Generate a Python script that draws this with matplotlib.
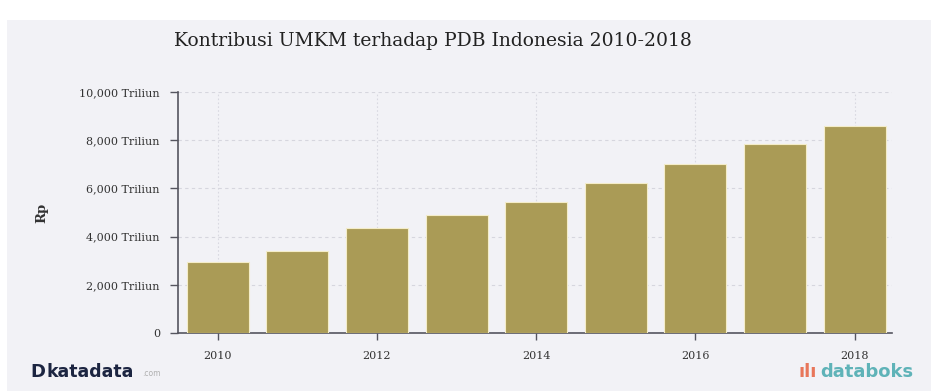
import matplotlib
matplotlib.use('Agg')
import matplotlib.pyplot as plt
from matplotlib.patches import Rectangle

# data
years = [2010, 2011, 2012, 2013, 2014, 2015, 2016, 2017, 2018]
pdb = [2950, 3400, 4340, 4880, 5440, 6230, 7010, 7850, 8600]
y_ticks = [0, 2000, 4000, 6000, 8000, 10000]
y_labels = ['0', '2,000 Triliun', '4,000 Triliun', '6,000 Triliun', '8,000 Triliun', '10,000 Triliun']
x_ticks = [2010, 2012, 2014, 2016, 2018]

bg = '#f2f2f6'
bar_color = '#aa9b56'
axis_color = '#55555f'

fig = plt.figure(figsize=(9.31, 3.91), dpi=100, facecolor='white')
fig.patches.append(Rectangle((7 / 931, 0), 1, 1 - 20 / 391, transform=fig.transFigure,
                             facecolor=bg, edgecolor='none', zorder=-10))

ax = fig.add_axes([178 / 931, 1 - 333 / 391, (892 - 178) / 931, (333 - 92) / 391])
ax.set_facecolor(bg)

ax.bar(years, pdb, width=0.78, color=bar_color, edgecolor='#f4edc9', linewidth=0.8, zorder=3)

ax.set_xlim(2009.5, 2018.47)
ax.set_ylim(0, 10000)
ax.set_yticks(y_ticks)
ax.set_yticklabels(y_labels, family='DejaVu Serif', fontsize=8, color='#333333')
ax.set_xticks(x_ticks)
ax.set_xticklabels([str(x) for x in x_ticks], family='DejaVu Serif', fontsize=8, color='#333333')
ax.tick_params(axis='y', length=6, width=1, color=axis_color, pad=7)
ax.tick_params(axis='x', length=5, width=1, color=axis_color, pad=8)

ax.grid(True, axis='y', color='#d6d6de', linestyle=(0, (3, 3)), linewidth=0.8, zorder=0)
ax.grid(True, axis='x', color='#d9d9e1', linestyle=(0, (1.5, 2)), linewidth=0.8, zorder=0)
for s in ['top', 'right']:
    ax.spines[s].set_visible(False)
for s in ['left', 'bottom']:
    ax.spines[s].set_color(axis_color)
    ax.spines[s].set_linewidth(1.2)

ax.set_ylabel('Rp', family='DejaVu Serif', fontsize=9.5, fontweight='bold',
              color='#333333', labelpad=22)

fig.text(433 / 931, 1 - 41 / 391, 'Kontribusi UMKM terhadap PDB Indonesia 2010-2018',
         ha='center', va='center', family='DejaVu Serif', fontsize=13.5, color='#222222')

# logos
fig.text(30 / 931, 1 - 372 / 391, 'D', ha='left', va='center', fontsize=13,
         fontweight='bold', color='#1c2541')
fig.text(47 / 931, 1 - 372 / 391, 'katadata', ha='left', va='center', fontsize=12.5,
         fontweight='bold', color='#1c2541')
fig.text(142 / 931, 1 - 374 / 391, '.com', ha='left', va='center', fontsize=5.5, color='#b0b0b0')
fig.text(798 / 931, 1 - 372 / 391, 'ılı', ha='left', va='center', fontsize=13,
         fontweight='bold', color='#e8765a')
fig.text(820 / 931, 1 - 372 / 391, 'databoks', ha='left', va='center', fontsize=13,
         fontweight='bold', color='#5fb3b8')

fig.savefig('out.png', dpi=100, facecolor=fig.get_facecolor())
